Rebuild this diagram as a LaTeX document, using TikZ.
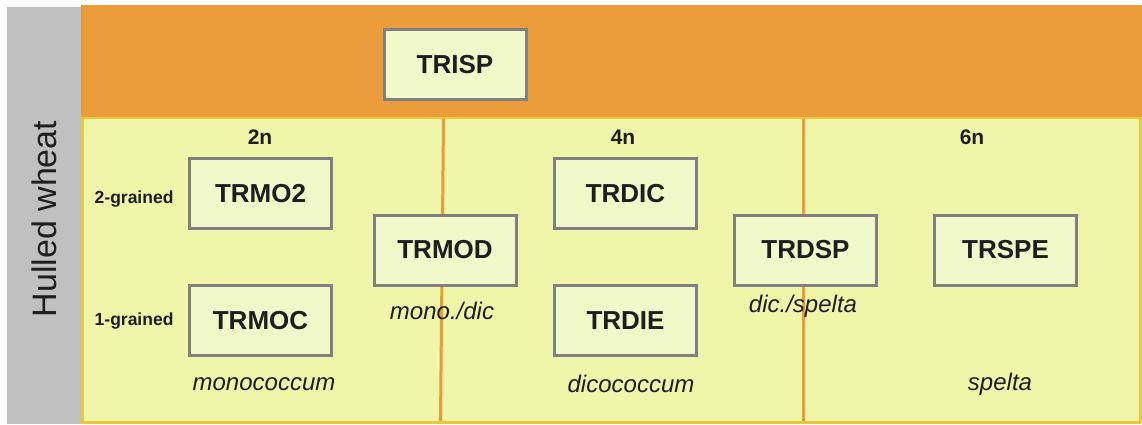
\documentclass[tikz,border=0pt]{standalone}
\usepackage{fontspec}
\setmainfont{Liberation Sans}
\usetikzlibrary{positioning}
\definecolor{bandgray}{HTML}{C0C0C0}
\definecolor{toporange}{HTML}{EA9C3A}
\definecolor{fieldyellow}{HTML}{EFF6AA}
\definecolor{edgegold}{HTML}{E9C83A}
\definecolor{boxfill}{HTML}{F1F8CA}
\definecolor{boxline}{HTML}{808080}
\definecolor{inkdark}{HTML}{1E1E1E}

\begin{document}
\begin{tikzpicture}[x=1pt,y=-1pt,on grid,node distance=127pt,
      taxon/.style={draw=boxline,line width=3pt,fill=boxfill,minimum width=142pt,
        minimum height=70pt,inner sep=0pt,text=inkdark,font=\bfseries\fontsize{26}{26}\selectfont},
      ploidy/.style={text=inkdark,font=\bfseries\fontsize{21}{21}\selectfont},
      grain/.style={text=inkdark,anchor=east,font=\bfseries\fontsize{17.5}{17.5}\selectfont},
      species/.style={text=inkdark,font=\itshape\fontsize{24}{24}\selectfont}]
      \useasboundingbox (0,0) rectangle (1142,424);
      % background bands
      \fill[bandgray] (7,7) rectangle (82,424);
      \fill[toporange] (81,5) rectangle (1142,118);
      \filldraw[fieldyellow,draw=edgegold,line width=2.5pt] (82.5,118) rectangle (1140.5,422.5);
      \node[rotate=90,text=inkdark,font=\fontsize{34}{34}\selectfont] (side) at (44,219) {Hulled wheat};
      % ploidy dividers
      \draw[toporange,line width=3pt] (443.5,119) -- (440.5,421);
      \draw[toporange,line width=3pt] (803.5,119) -- (803.5,421);

      \node[taxon] (trisp) at (455,64.5) {TRISP};
      \node[taxon] (trmo2) at (260.5,193.5) {TRMO2};
      \node[taxon] (trmoc) [below=of trmo2] {TRMOC};
      \node[taxon] (trmod) at (445,250) {TRMOD};
      \node[taxon] (trdic) at (625.5,193.5) {TRDIC};
      \node[taxon] (trdie) [below=of trdic] {TRDIE};
      \node[taxon] (trdsp) at (805.5,250) {TRDSP};
      \node[taxon] (trspe) [right=200pt of trdsp] {TRSPE};

      \node[ploidy] (p2) at (260,137) {2n};
      \node[ploidy] (p4) at (623,137) {4n};
      \node[ploidy] (p6) at (972,137) {6n};
      \node[grain] (g2) at (177,199) {2-grained};
      \node[grain] (g1) at (177,321) {1-grained};

      \node[species] (mono) at (264,384) {monococcum};
      \node[species] (monodic) at (442,311) {mono./dic};
      \node[species] (dico) at (631,384) {dicococcum};
      \node[species] (dicspe) at (803,306) {dic./spelta};
      \node[species] (spel) at (1000,384) {spelta};
    \end{tikzpicture}
\end{document}
